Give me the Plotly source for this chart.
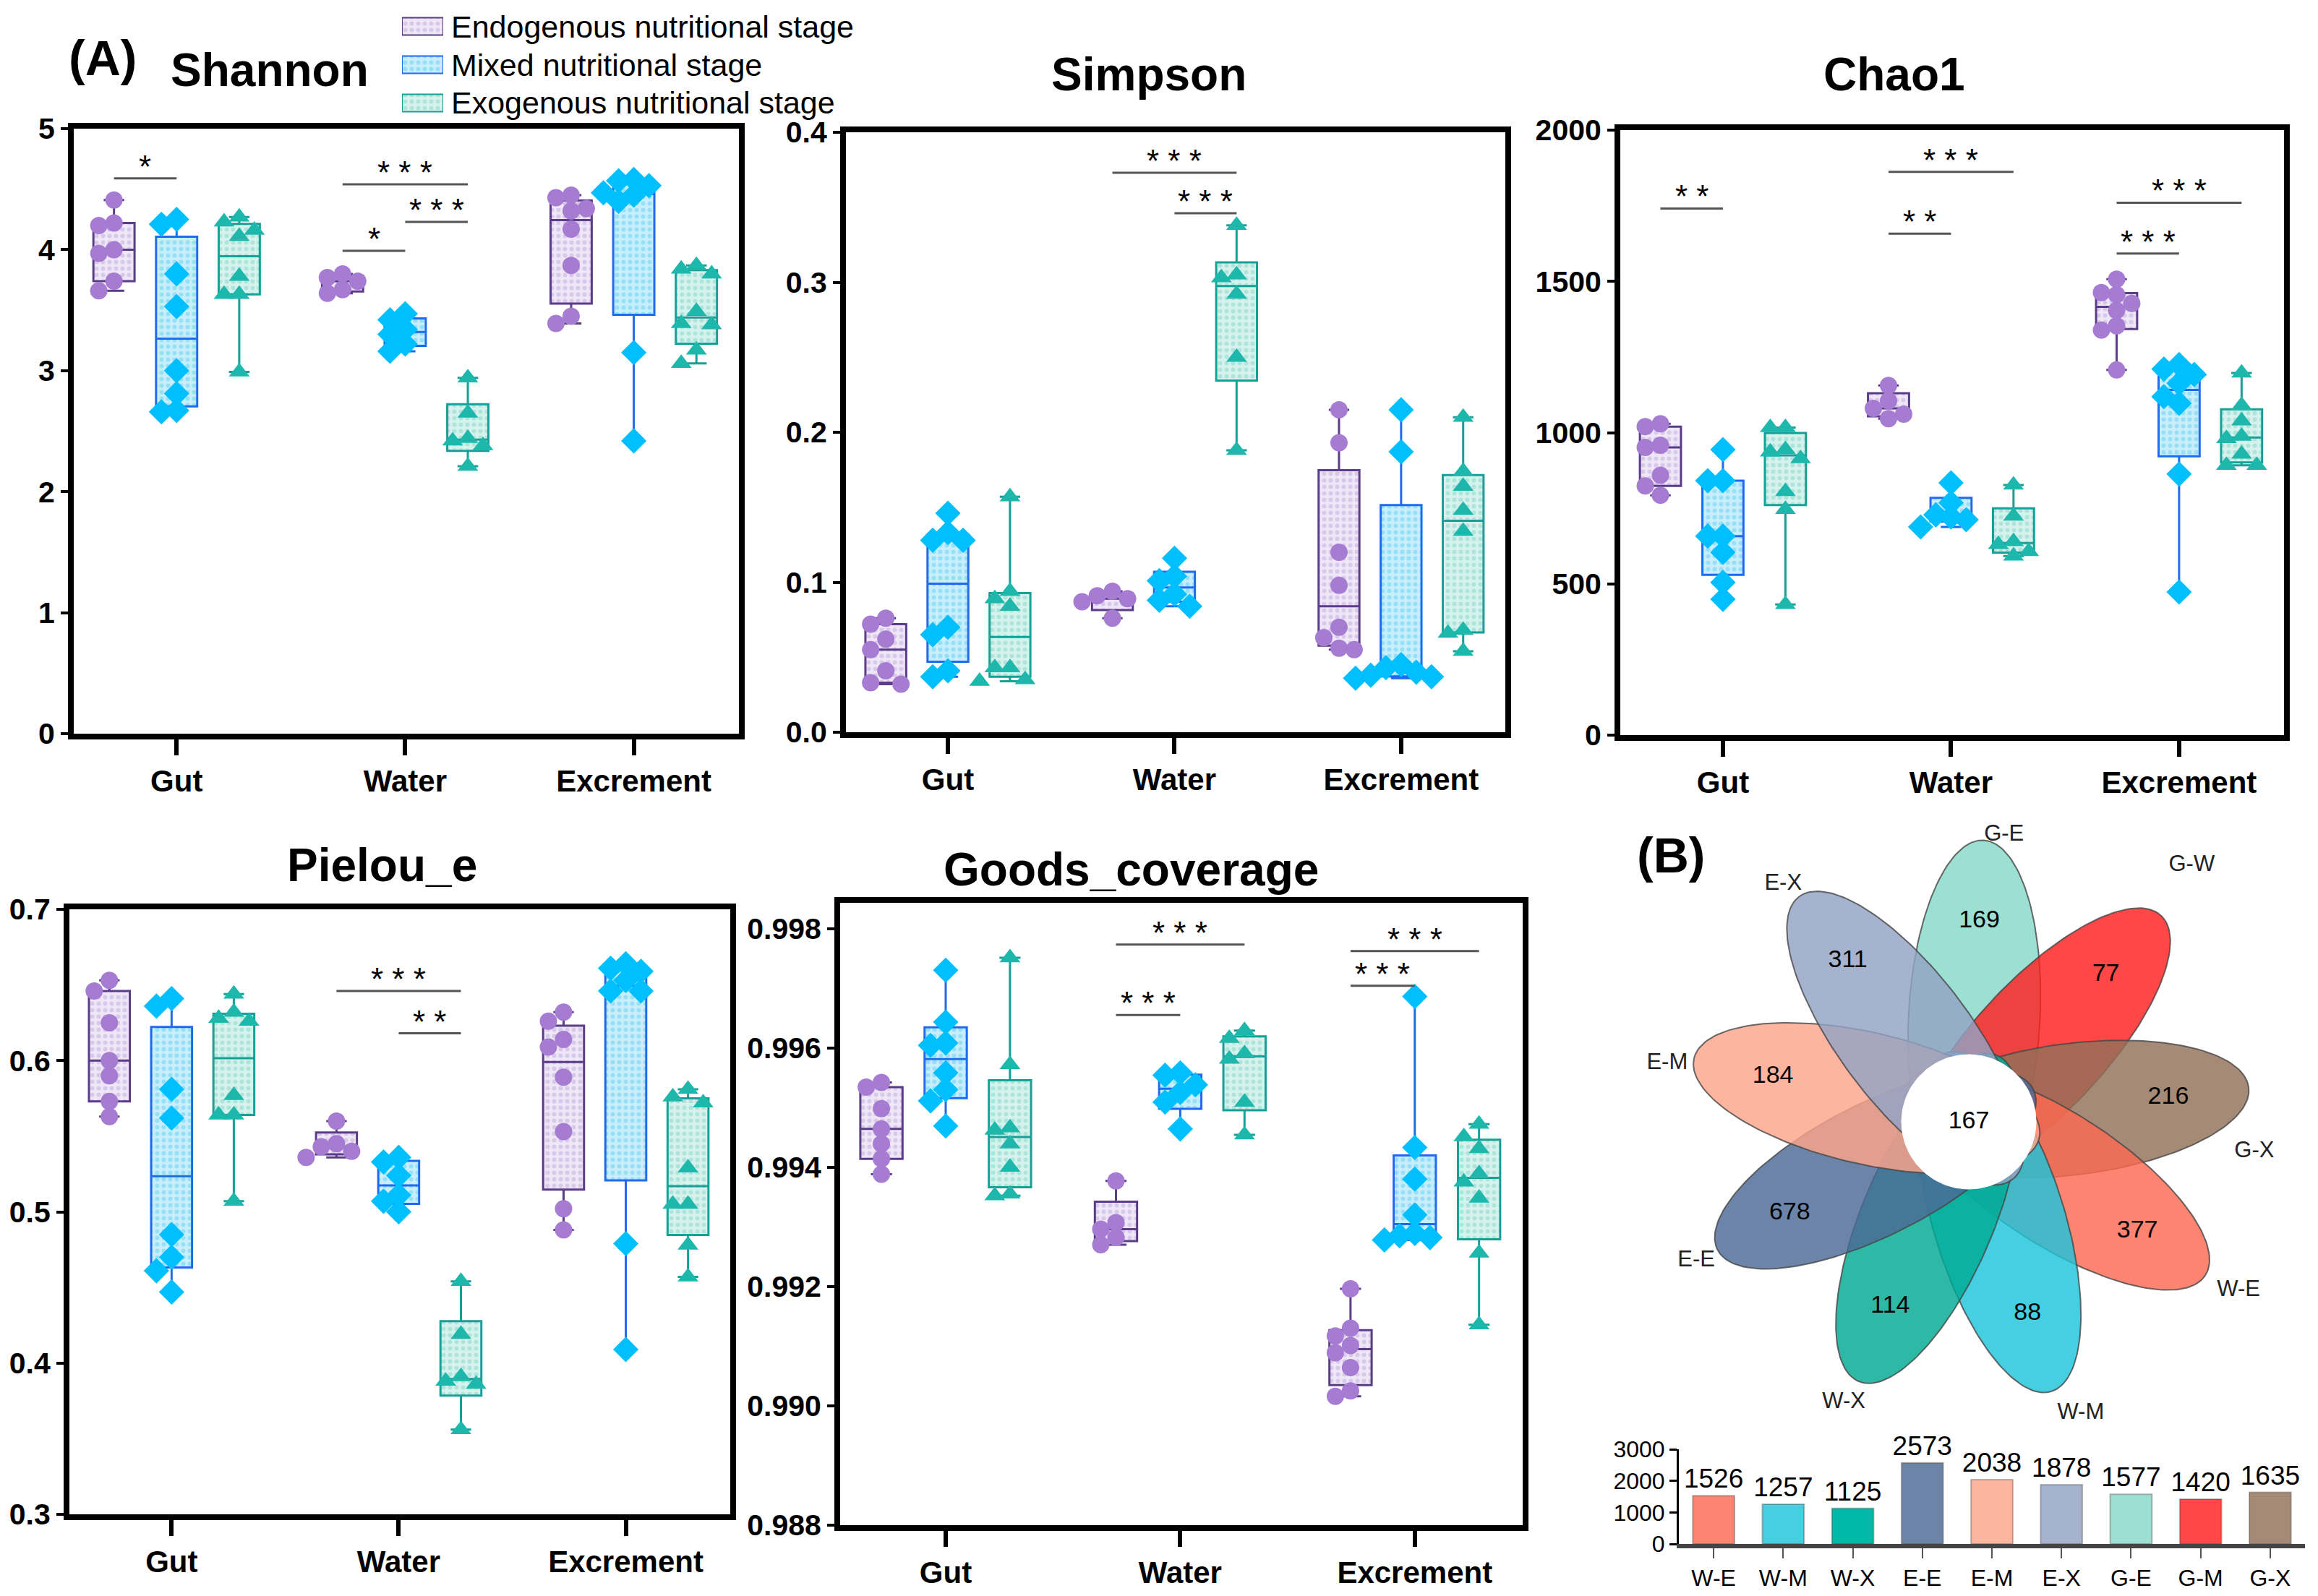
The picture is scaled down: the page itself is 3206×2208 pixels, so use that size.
import numpy as np
import plotly.graph_objects as go

W, H = 3206, 2208
PAGE_OFF = 8          # default <body> margin of the written html page
FONT = "Liberation Sans, Arial, sans-serif"

# ------------------------------------------------------------------ data
categories = ["Gut", "Water", "Excrement"]
stages = ["Endogenous nutritional stage", "Mixed nutritional stage", "Exogenous nutritional stage"]

# each list holds [Gut, Water, Excrement] sample values
shannon_endo = [[4.41, 4.22, 4.20, 4.00, 3.97, 3.74, 3.66],
                [3.80, 3.77, 3.74, 3.67, 3.64],
                [4.45, 4.43, 4.34, 4.32, 4.17, 3.87, 3.45, 3.39]]
shannon_mixed = [[4.25, 4.21, 3.80, 3.53, 3.00, 2.81, 2.67, 2.66],
                 [3.47, 3.42, 3.34, 3.30, 3.22, 3.16],
                 [4.58, 4.57, 4.53, 4.47, 4.45, 4.40, 3.15, 2.42]]
shannon_exo = [[4.27, 4.23, 4.16, 4.11, 3.78, 3.63, 3.63, 2.99],
               [2.94, 2.65, 2.44, 2.42, 2.38, 2.21],
               [3.87, 3.84, 3.80, 3.49, 3.39, 3.38, 3.17, 3.06]]

simpson_endo = [[0.076, 0.072, 0.062, 0.055, 0.041, 0.033, 0.032],
                [0.094, 0.091, 0.089, 0.087, 0.076],
                [0.215, 0.193, 0.120, 0.098, 0.070, 0.063, 0.056, 0.055]]
simpson_mixed = [[0.146, 0.133, 0.128, 0.128, 0.070, 0.065, 0.041, 0.037],
                 [0.116, 0.104, 0.101, 0.092, 0.088, 0.084],
                 [0.215, 0.187, 0.045, 0.043, 0.040, 0.038, 0.037, 0.036]]
simpson_exo = [[0.157, 0.094, 0.089, 0.084, 0.043, 0.043, 0.035, 0.034],
               [0.338, 0.305, 0.303, 0.292, 0.250, 0.188],
               [0.210, 0.174, 0.164, 0.148, 0.134, 0.068, 0.066, 0.054]]

chao1_endo = [[1029, 1020, 958, 951, 859, 824, 793],
              [1156, 1105, 1080, 1061, 1046],
              [1507, 1463, 1456, 1427, 1404, 1353, 1339, 1207]]
chao1_mixed = [[944, 841, 841, 658, 658, 604, 505, 449],
               [834, 768, 728, 721, 712, 688],
               [1225, 1210, 1192, 1163, 1119, 1097, 863, 473]]
chao1_exo = [[1017, 1017, 944, 936, 914, 805, 746, 432],
             [827, 724, 640, 630, 607, 592],
             [1197, 1090, 1039, 988, 980, 929, 892, 892]]

pielou_endo = [[0.653, 0.646, 0.625, 0.600, 0.590, 0.573, 0.563],
               [0.560, 0.545, 0.543, 0.540, 0.536],
               [0.632, 0.626, 0.614, 0.609, 0.589, 0.553, 0.502, 0.488]]
pielou_mixed = [[0.641, 0.636, 0.581, 0.562, 0.485, 0.470, 0.461, 0.447],
                [0.536, 0.533, 0.524, 0.511, 0.507, 0.500],
                [0.664, 0.661, 0.659, 0.653, 0.646, 0.646, 0.479, 0.409]]
pielou_exo = [[0.644, 0.632, 0.628, 0.626, 0.577, 0.564, 0.564, 0.507],
              [0.454, 0.419, 0.391, 0.388, 0.386, 0.356],
              [0.581, 0.576, 0.572, 0.529, 0.505, 0.505, 0.478, 0.457]]

goods_endo = [[0.99542, 0.99534, 0.99498, 0.99464, 0.99439, 0.99414, 0.99388],
              [0.99377, 0.99307, 0.99296, 0.99282, 0.99270],
              [0.99196, 0.99130, 0.99117, 0.99101, 0.99089, 0.99064, 0.99025, 0.99016]]
goods_mixed = [[0.99730, 0.99643, 0.99608, 0.99604, 0.99558, 0.99530, 0.99511, 0.99469],
               [0.99558, 0.99554, 0.99538, 0.99525, 0.99509, 0.99464],
               [0.99686, 0.99433, 0.99380, 0.99320, 0.99289, 0.99285, 0.99282, 0.99278]]
goods_exo = [[0.99751, 0.99572, 0.99466, 0.99462, 0.99439, 0.99400, 0.99355, 0.99352],
             [0.99629, 0.99616, 0.99590, 0.99581, 0.99509, 0.99454],
             [0.99472, 0.99451, 0.99431, 0.99389, 0.99375, 0.99348, 0.99256, 0.99136]]

# significance: (category, group a, group b, bracket level, label)
shannon_sig = [(0, 0, 1, 4.59, "*"), (1, 0, 2, 4.54, "* * *"),
               (1, 1, 2, 4.23, "* * *"), (1, 0, 1, 3.99, "*")]
simpson_sig = [(1, 0, 2, 0.373, "* * *"), (1, 1, 2, 0.346, "* * *")]
chao1_sig = [(0, 0, 1, 1741, "* *"), (1, 0, 2, 1862, "* * *"), (1, 0, 1, 1658, "* *"),
             (2, 0, 2, 1760, "* * *"), (2, 0, 1, 1592, "* * *")]
pielou_sig = [(1, 0, 2, 0.646, "* * *"), (1, 1, 2, 0.618, "* *")]
goods_sig = [(1, 0, 2, 0.99773, "* * *"), (1, 0, 1, 0.99655, "* * *"),
             (2, 0, 2, 0.99762, "* * *"), (2, 0, 1, 0.99704, "* * *")]

# Venn (flower) data
venn_sets = ["G-E", "G-W", "G-X", "W-E", "W-M", "W-X", "E-E", "E-M", "E-X"]
venn_unique = [169, 77, 216, 377, 88, 114, 678, 184, 311]
venn_core = 167

# total OTUs per sample group
bar_labels = ["W-E", "W-M", "W-X", "E-E", "E-M", "E-X", "G-E", "G-M", "G-X"]
bar_values = [1526, 1257, 1125, 2573, 2038, 1878, 1577, 1420, 1635]

# ------------------------------------------------------------------ styles
venn_colors = ["#9CE0D3", "#FF4747", "#A58A77", "#FC8471", "#45CFE1",
               "#00B9A6", "#6C84A8", "#FDB5A0", "#A6B3CF"]
bar_colors = ["#FC8471", "#45CFE1", "#00B9A6", "#6C84A8", "#FDB5A0",
              "#A6B3CF", "#9CE0D3", "#FF4747", "#A58A77"]
# placement of the set names around the flower (radius px, angular shift deg)
venn_label_r = [400, 470, 397, 440, 432, 425, 423, 425, 417]
venn_label_dang = [-4, 2, -13, 1, 4, -1, 0, 2, 1]

GROUP_OFFSET = [-0.274, 0.0, 0.274]
BOX_W = 0.18
line_cols = ["#5B3C88", "#1F6BF0", "#16A096"]
fill_cols = ["#EFE7F7", "#C9EEFB", "#D6F2ED"]
dot_cols = ["#C2ABDC", "#62CFF4", "#86D6CB"]
mark_cols = ["#A67CD2", "#00BFFF", "#1DB7AC"]
symbols = ["circle", "diamond", "triangle-up"]
msizes = [24, 27, 25]

panels = [
    dict(title="Shannon", data=(shannon_endo, shannon_mixed, shannon_exo), sig=shannon_sig,
         px=(102, 1022), py=(178, 1015), yr=(0, 5), dtick=1, fmt=".0f", tpos=(373, 97)),
    dict(title="Simpson", data=(simpson_endo, simpson_mixed, simpson_exo), sig=simpson_sig,
         px=(1170, 2082), py=(183, 1013), yr=(0, 0.4), dtick=0.1, fmt=".1f", tpos=(1589, 103)),
    dict(title="Chao1", data=(chao1_endo, chao1_mixed, chao1_exo), sig=chao1_sig,
         px=(2241, 3159), py=(180, 1017), yr=(0, 2000), dtick=500, fmt="d", tpos=(2620, 103)),
    dict(title="Pielou_e", data=(pielou_endo, pielou_mixed, pielou_exo), sig=pielou_sig,
         px=(96, 1010), py=(1258, 2095), yr=(0.3, 0.7), dtick=0.1, fmt=".1f", tpos=(528, 1197)),
    dict(title="Goods_coverage", data=(goods_endo, goods_mixed, goods_exo), sig=goods_sig,
         px=(1162, 2106), py=(1249, 2110), yr=(0.988, 0.99843), dtick=0.002, fmt=".3f",
         tpos=(1564, 1203)),
]
XR = (-0.45, 2.46)


def clamp(v):
    return min(1.0, max(0.0, v))


def fx(p):
    return clamp((p - PAGE_OFF) / W)


def fy(p):
    return clamp(1 - (p - PAGE_OFF) / H)


def swarm(vals, yppu, xppu, d):
    order = sorted(range(len(vals)), key=lambda i: -vals[i])
    placed, offs = [], [0.0] * len(vals)
    for i in order:
        y = vals[i] * yppu
        x = 0.0
        for k in (0, -1, 1, -2, 2, -3, 3):
            x = k * d
            if all((x - a) ** 2 + (y - b) ** 2 >= (0.9 * d) ** 2 for a, b in placed):
                break
        placed.append((x, y))
        offs[i] = x / xppu
    return offs


fig = go.Figure()
annotations = []
layout_axes = {}

for n, P in enumerate(panels, start=1):
    suf = "" if n == 1 else str(n)
    xr, yr_ = "x" + suf, "y" + suf
    x0, x1 = P["px"]
    y0, y1 = P["py"]
    xppu = (x1 - x0) / (XR[1] - XR[0])
    yppu = (y1 - y0) / (P["yr"][1] - P["yr"][0])

    for g in range(3):
        grp = P["data"][g]
        pos = [c + GROUP_OFFSET[g] for c in range(3)]
        q1, med, q3, lo, hi = [], [], [], [], []
        for vals in grp:
            a, b, c_ = np.percentile(vals, [25, 50, 75], method="weibull")
            q1.append(float(a)); med.append(float(b)); q3.append(float(c_))
            lo.append(min(vals)); hi.append(max(vals))
        # patterned fill of the box
        fig.add_trace(go.Bar(
            x=pos, base=q1, y=[b - a for a, b in zip(q1, q3)], width=[BOX_W] * 3,
            marker=dict(color=fill_cols[g], line=dict(width=0),
                        pattern=dict(shape=".", fgcolor=dot_cols[g], bgcolor=fill_cols[g],
                                     size=9, solidity=0.35, fillmode="overlay")),
            xaxis=xr, yaxis=yr_, showlegend=False, hoverinfo="skip"))
        # box outline, median, whiskers
        fig.add_trace(go.Box(
            x=pos, q1=q1, median=med, q3=q3, lowerfence=lo, upperfence=hi,
            width=BOX_W, whiskerwidth=0.5, boxpoints=False,
            fillcolor="rgba(0,0,0,0)", line=dict(color=line_cols[g], width=3),
            xaxis=xr, yaxis=yr_, showlegend=False, name=stages[g]))
        # individual samples
        xs, ys = [], []
        for c, vals in enumerate(grp):
            offs = swarm(vals, yppu, xppu, 21)
            xs += [pos[c] + o for o in offs]
            ys += list(vals)
        fig.add_trace(go.Scatter(
            x=xs, y=ys, mode="markers",
            marker=dict(symbol=symbols[g], size=msizes[g], color=mark_cols[g], line=dict(width=0)),
            xaxis=xr, yaxis=yr_, showlegend=False, cliponaxis=False))

    # significance brackets
    lx, ly = [], []
    for cat, ga, gb, lev, lab in P["sig"]:
        xa, xb = cat + GROUP_OFFSET[ga], cat + GROUP_OFFSET[gb]
        lx += [xa, xb, None]
        ly += [lev, lev, None]
        annotations.append(dict(x=(xa + xb) / 2, y=lev, xref=xr, yref=yr_, text=lab,
                                showarrow=False, xanchor="center", yanchor="bottom", yshift=-10,
                                font=dict(size=44, family=FONT, color="black")))
    fig.add_trace(go.Scatter(x=lx, y=ly, mode="lines", line=dict(color="#555555", width=3),
                             xaxis=xr, yaxis=yr_, showlegend=False, hoverinfo="skip"))

    layout_axes["xaxis" + suf] = dict(
        domain=[fx(x0), fx(x1)], anchor=yr_, range=list(XR), automargin=False,
        tickmode="array", tickvals=[0, 1, 2], ticktext=categories,
        showline=True, linewidth=8, linecolor="black", mirror=True,
        ticks="outside", ticklen=22, tickwidth=6, tickcolor="black",
        tickfont=dict(size=42, family=FONT, color="black", weight="bold"),
        showgrid=False, zeroline=False)
    layout_axes["yaxis" + suf] = dict(
        domain=[fy(y1), fy(y0)], anchor=xr, range=list(P["yr"]), automargin=False,
        tick0=P["yr"][0], dtick=P["dtick"], tickformat=P["fmt"],
        showline=True, linewidth=8, linecolor="black", mirror=True,
        ticks="outside", ticklen=10, tickwidth=4, tickcolor="black",
        tickfont=dict(size=41, family=FONT, color="black", weight="bold"),
        showgrid=False, zeroline=False)
    annotations.append(dict(x=fx(P["tpos"][0]), y=fy(P["tpos"][1]), xref="paper", yref="paper",
                            text=P["title"], showarrow=False, xanchor="center", yanchor="middle",
                            font=dict(size=64, family=FONT, color="black", weight="bold")))

# ------------------------------------------------------------------ legend (patterned swatches)
LEG_TOP, LEG_STEP = 10, 53
for g in range(3):
    fig.add_trace(go.Bar(
        x=[0.5], base=[g + 0.275], y=[0.45], width=[1.0],
        marker=dict(color=fill_cols[g], line=dict(color=line_cols[g], width=2),
                    pattern=dict(shape=".", fgcolor=dot_cols[g], bgcolor=fill_cols[g],
                                 size=9, solidity=0.35, fillmode="overlay")),
        xaxis="x8", yaxis="y8", showlegend=False, hoverinfo="skip"))
    annotations.append(dict(x=fx(622), y=fy(LEG_TOP + LEG_STEP * (g + 0.5)), xref="paper",
                            yref="paper", text=stages[g], showarrow=False, xanchor="left",
                            yanchor="middle", font=dict(size=43, family=FONT, color="black")))
layout_axes["xaxis8"] = dict(domain=[fx(556), fx(613)], anchor="y8", range=[0, 1],
                             visible=False, automargin=False)
layout_axes["yaxis8"] = dict(domain=[fy(LEG_TOP + 3 * LEG_STEP), fy(LEG_TOP)], anchor="x8",
                             range=[3, 0], visible=False, automargin=False)

# ------------------------------------------------------------------ flower Venn
VC = (2723, 1552)          # flower centre in pixels
A_MAJ, B_MIN, C_OFF = 245, 91, 145
ALPHA = 0.82


def hex_rgba(hx, alpha):
    r, g, b = int(hx[1:3], 16), int(hx[3:5], 16), int(hx[5:7], 16)
    base = [min(255, max(0, round((v - 255 * (1 - alpha)) / alpha))) for v in (r, g, b)]
    return "rgba(%d,%d,%d,%.2f)" % (base[0], base[1], base[2], alpha)


t = np.linspace(0, 2 * np.pi, 181)
petal_deg = [87 - 40 * k for k in range(len(venn_sets))]
for k, name in enumerate(venn_sets):
    th = np.deg2rad(petal_deg[k])
    u = np.array([np.cos(th), np.sin(th)])
    v = np.array([-np.sin(th), np.cos(th)])
    ex = C_OFF * u[0] + A_MAJ * np.cos(t) * u[0] + B_MIN * np.sin(t) * v[0]
    ey = C_OFF * u[1] + A_MAJ * np.cos(t) * u[1] + B_MIN * np.sin(t) * v[1]
    fig.add_trace(go.Scatter(x=ex, y=ey, mode="lines", fill="toself",
                             fillcolor=hex_rgba(venn_colors[k], ALPHA),
                             line=dict(color="rgba(70,70,70,0.8)", width=2),
                             xaxis="x6", yaxis="y6", showlegend=False, hoverinfo="skip"))
# white core
fig.add_trace(go.Scatter(x=93 * np.cos(t), y=93 * np.sin(t), mode="lines", fill="toself",
                         fillcolor="white", line=dict(color="white", width=1),
                         xaxis="x6", yaxis="y6", showlegend=False, hoverinfo="skip"))
ang = np.deg2rad(petal_deg)
fig.add_trace(go.Scatter(
    x=list(278 * np.cos(ang)) + [0], y=list(278 * np.sin(ang)) + [0], mode="text",
    text=[str(v) for v in venn_unique] + [str(venn_core)],
    textfont=dict(size=34, family=FONT, color="black"),
    xaxis="x6", yaxis="y6", showlegend=False, hoverinfo="skip"))
lang = np.deg2rad([d + s for d, s in zip(petal_deg, venn_label_dang)])
lr = np.array(venn_label_r)
fig.add_trace(go.Scatter(
    x=list(lr * np.cos(lang)), y=list(lr * np.sin(lang)), mode="text", text=venn_sets,
    textfont=dict(size=31, family=FONT, color="#222222"),
    xaxis="x6", yaxis="y6", showlegend=False, hoverinfo="skip", cliponaxis=False))
vx0, vx1, vy0, vy1 = 2240, 3200, 1130, 1990
layout_axes["xaxis6"] = dict(domain=[fx(vx0), fx(vx1)], anchor="y6", automargin=False,
                             range=[vx0 - VC[0], vx1 - VC[0]], visible=False)
layout_axes["yaxis6"] = dict(domain=[fy(vy1), fy(vy0)], anchor="x6", automargin=False,
                             range=[VC[1] - vy1, VC[1] - vy0], visible=False)

# ------------------------------------------------------------------ bar chart
fig.add_trace(go.Bar(
    x=bar_labels, y=bar_values, width=0.6,
    marker=dict(color=bar_colors, line=dict(color="rgba(60,60,60,0.35)", width=2)),
    text=[str(v) for v in bar_values], textposition="outside", constraintext="none",
    textfont=dict(size=37, family=FONT, color="black"), cliponaxis=False,
    xaxis="x7", yaxis="y7", showlegend=False))
layout_axes["xaxis7"] = dict(
    domain=[fx(2322), fx(3188)], anchor="y7", range=[-0.5, 8.5], type="category",
    automargin=False,
    showline=True, linewidth=6, linecolor="#444444", ticks="outside", ticklen=14,
    tickwidth=2, tickcolor="#555555", tickfont=dict(size=32, family=FONT, color="black"),
    showgrid=False, zeroline=False)
layout_axes["yaxis7"] = dict(
    domain=[fy(2136), fy(2005)], anchor="x7", range=[0, 3000], tickvals=[0, 1000, 2000, 3000],
    automargin=False,
    tickformat="d", showline=True, linewidth=3, linecolor="black", ticks="outside",
    ticklen=10, tickwidth=3, tickcolor="black",
    tickfont=dict(size=32, family=FONT, color="black"), showgrid=False, zeroline=False)

# ------------------------------------------------------------------ panel letters
annotations.append(dict(x=fx(142), y=fy(80), xref="paper", yref="paper", text="(A)",
                        showarrow=False, xanchor="center", yanchor="middle",
                        font=dict(size=68, family=FONT, color="black", weight="bold")))
annotations.append(dict(x=fx(2311), y=fy(1183), xref="paper", yref="paper", text="(B)",
                        showarrow=False, xanchor="center", yanchor="middle",
                        font=dict(size=68, family=FONT, color="black", weight="bold")))

fig.update_layout(
    width=W, height=H, autosize=False,
    margin=dict(l=0, r=0, t=0, b=0, autoexpand=False),
    paper_bgcolor="white", plot_bgcolor="rgba(0,0,0,0)",
    barmode="overlay", boxmode="overlay",
    font=dict(family=FONT, color="black"),
    annotations=annotations,
    **layout_axes,
)

fig.write_html("out.html")
